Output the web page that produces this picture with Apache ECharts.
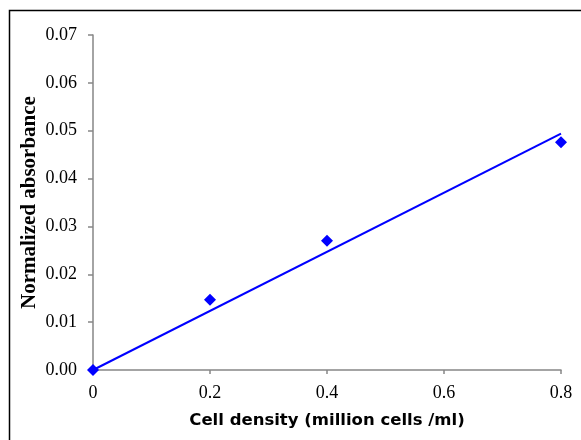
<!DOCTYPE html>
<html>
<head>
<meta charset="utf-8">
<script src="https://cdn.jsdelivr.net/npm/echarts@6/dist/echarts.min.js"></script>
<style>html,body{margin:0;padding:0;background:#fff}#c{width:581px;height:440px}</style>
</head>
<body>
<div id="c"></div>
<script>
const cellDensity = [0, 0.2, 0.4, 0.8];
const absorbance = [0, 0.0147, 0.027, 0.0476];
const trendX = [0, 0.8];
const trendY = [0, 0.0494];
const xTicks = [0, 0.2, 0.4, 0.6, 0.8];
const yTicks = [0, 0.01, 0.02, 0.03, 0.04, 0.05, 0.06, 0.07];

const chart = echarts.init(document.getElementById('c'), null, {renderer: 'canvas'});
const axisGrey = '#868686';
chart.setOption({
  animation: false,
  graphic: [{
    type: 'rect',
    shape: {x: 9.5, y: 10.5, width: 700, height: 600},
    style: {fill: 'none', stroke: '#000', lineWidth: 1.5},
    silent: true
  }],
  grid: {left: 93, top: 35, right: 20, bottom: 70, containLabel: false},
  xAxis: {
    type: 'value', min: 0, max: 0.8, interval: 0.2,
    name: 'Cell density (million cells /ml)',
    nameLocation: 'middle', nameGap: 42, nameMoveOverlap: false,
    nameTextStyle: {fontFamily: 'DejaVu Sans', fontWeight: 'bold', fontSize: 16.5, color: '#000'},
    axisLine: {show: true, lineStyle: {color: axisGrey, width: 1.5}},
    axisTick: {show: true, inside: false, length: 4, lineStyle: {color: axisGrey, width: 1.5}},
    splitLine: {show: false},
    axisLabel: {
      margin: 14, fontFamily: 'Liberation Serif', fontSize: 18, color: '#000',
      formatter: v => xTicks.indexOf(+v.toFixed(1)) >= 0 ? (v === 0 ? '0' : v.toFixed(1)) : ''
    }
  },
  yAxis: {
    type: 'value', min: 0, max: 0.07, interval: 0.01,
    name: 'Normalized absorbance',
    nameLocation: 'middle', nameGap: 53, nameRotate: 90, nameMoveOverlap: false,
    nameTextStyle: {fontFamily: 'Liberation Serif', fontWeight: 'bold', fontSize: 21, color: '#000'},
    axisLine: {show: true, lineStyle: {color: axisGrey, width: 1.5}},
    axisTick: {show: true, inside: false, length: 5, lineStyle: {color: axisGrey, width: 1.5}},
    splitLine: {show: false},
    axisLabel: {
      margin: 16, fontFamily: 'Liberation Serif', fontSize: 18, color: '#000',
      formatter: v => v.toFixed(2)
    }
  },
  series: [
    {
      type: 'line',
      data: trendX.map((x, i) => [x, trendY[i]]),
      showSymbol: false,
      lineStyle: {color: '#0000FF', width: 2},
      z: 2
    },
    {
      type: 'scatter',
      data: cellDensity.map((x, i) => [x, absorbance[i]]),
      symbol: 'diamond', symbolSize: 12,
      itemStyle: {color: '#0000FF', opacity: 1},
      z: 3
    }
  ]
});
</script>
</body>
</html>
